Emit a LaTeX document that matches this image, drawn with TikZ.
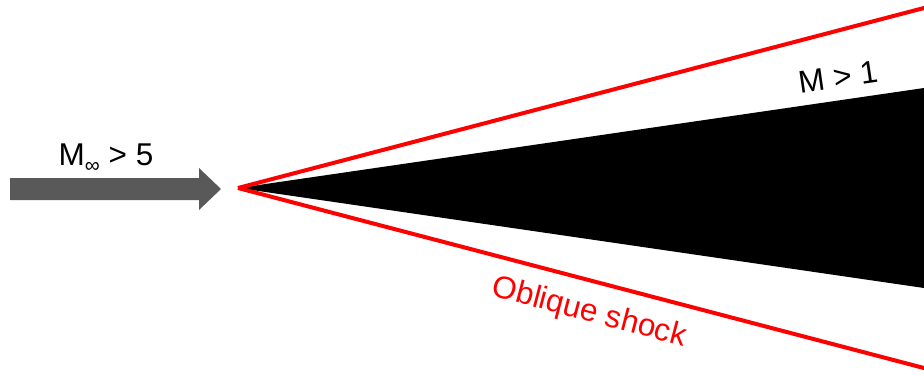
\documentclass[tikz,border=0pt]{standalone}
\usepackage{fontspec}
\setmainfont{Liberation Sans}
\begin{document}
\begin{tikzpicture}[x=1pt,y=-1pt,
  lbl/.style={inner sep=0pt,font=\fontsize{31.5}{32}\selectfont},
  shock/.style={draw=red,line width=4pt,line cap=butt}]
\useasboundingbox (0,0) rectangle (924,373);
\coordinate (apex) at (238,188);
% body (wedge)
\fill[black] (apex) -- (924,88) -- (924,288) -- cycle;
% shocks
\coordinate (su) at (930,6.4);
\coordinate (sl) at (930,369.6);
\draw[shock] (apex) -- (su);
\draw[shock] (apex) -- (sl);
% flow arrow
\fill[black!65] (10,178) -- (199,178) -- (199,168) -- (221,189) -- (199,210) -- (199,200) -- (10,200) -- cycle;
\node[lbl] (minf) at (106,158) {M{\fontsize{21}{21}\selectfont\raisebox{-7pt}{∞}} > 5};
\node[lbl,rotate=8.3] (m1) at (838,77) {M > 1};
\node[lbl,text=red,rotate=-14.7] (obl) at (589,313) {Oblique shock};
\end{tikzpicture}
\end{document}
